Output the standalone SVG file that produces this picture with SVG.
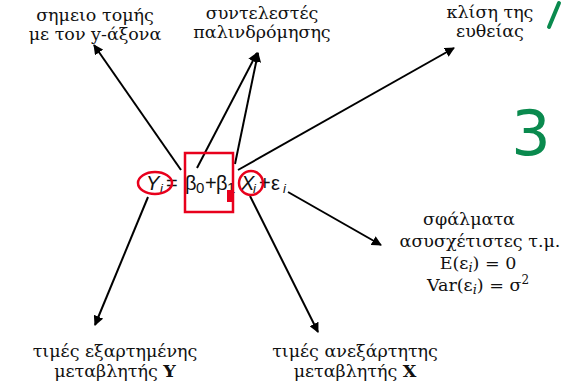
<svg xmlns="http://www.w3.org/2000/svg" width="567" height="383" viewBox="0 0 567 383">
  <defs>
    <marker id="ah" viewBox="0 0 10 10" refX="9" refY="5" markerWidth="5" markerHeight="5" orient="auto" markerUnits="strokeWidth">
      <path d="M0,0 L10,5 L0,10 z" fill="#000"/>
    </marker>
    <style>
      .lbl { font-family: "DejaVu Serif", "Liberation Serif", serif; font-size: 17.5px; fill: #111; text-anchor: middle; }
      .eq { font-family: "Liberation Sans", Arial, sans-serif; font-size: 20px; fill: #111; }
      .sub { font-size: 13px; font-style: italic; }
      .conn line { stroke: #000; stroke-width: 2; marker-end: url(#ah); }
      .mark { fill: none; stroke: #e8001c; stroke-width: 2.5; }
      .ink { fill: none; stroke: #0a8a4e; stroke-width: 4; stroke-linecap: round; stroke-linejoin: round; }
    </style>
  </defs>
  <rect width="567" height="383" fill="#fff"/>

  <!-- connectors -->
  <g id="connectors" class="conn">
    <line x1="181" y1="170" x2="94" y2="45"/>
    <line x1="197" y1="168" x2="257" y2="53"/>
    <line x1="235" y1="164" x2="258" y2="53"/>
    <line x1="238" y1="170" x2="454" y2="48"/>
    <line x1="148" y1="197" x2="95" y2="325"/>
    <line x1="250" y1="196" x2="318" y2="332"/>
    <line x1="288" y1="192" x2="381" y2="245"/>
  </g>

  <!-- regression equation -->
  <g id="equation">
    <text class="eq" y="190"><tspan x="146" font-style="italic">Y</tspan><tspan class="sub" x="160" dy="3">i</tspan><tspan x="166" dy="-3">=</tspan><tspan x="185">β</tspan><tspan x="196" font-size="15" dy="3">0</tspan><tspan x="205" dy="-3">+</tspan><tspan x="216">β</tspan><tspan x="227" font-size="15" dy="3">1</tspan><tspan x="241" dy="-3" font-style="italic">X</tspan><tspan class="sub" x="253" dy="3">i</tspan><tspan x="259" dy="-3">+</tspan><tspan x="271">ε</tspan><tspan class="sub" x="283" dy="3">i</tspan></text>
    <ellipse class="mark" cx="155" cy="183" rx="17" ry="11"/>
    <rect class="mark" x="185" y="153" width="48" height="59"/>
    <rect x="227" y="190" width="6" height="12" fill="#e8001c"/>
    <circle class="mark" cx="251" cy="183" r="12"/>
  </g>

  <g id="intercept">
    <text class="lbl" x="95" y="21">σημειο τομής</text>
    <text class="lbl" x="95" y="40">με τον y-άξονα</text>
  </g>
  <g id="coefficients">
    <text class="lbl" x="262" y="19">συντελεστές</text>
    <text class="lbl" x="262" y="38">παλινδρόμησης</text>
  </g>
  <g id="slope">
    <text class="lbl" x="490" y="18">κλίση της</text>
    <text class="lbl" x="490" y="37">ευθείας</text>
  </g>
  <g id="errors">
    <text class="lbl" x="469" y="225">σφάλματα</text>
    <text class="lbl" x="480" y="247">ασυσχέτιστες τ.μ.</text>
    <text class="lbl" x="478" y="269">E(ε<tspan class="sub" dy="3">i</tspan><tspan dy="-3">) = 0</tspan></text>
    <text class="lbl" x="478" y="291">Var(ε<tspan class="sub" dy="3">i</tspan><tspan dy="-3">) = σ</tspan><tspan font-size="12" dy="-7">2</tspan></text>
  </g>
  <g id="dependent">
    <text class="lbl" x="115" y="357">τιμές εξαρτημένης</text>
    <text class="lbl" x="115" y="377">μεταβλητής  <tspan font-weight="bold">Y</tspan></text>
  </g>
  <g id="independent">
    <text class="lbl" x="355" y="357">τιμές ανεξάρτητης</text>
    <text class="lbl" x="355" y="377">μεταβλητής  <tspan font-weight="bold">X</tspan></text>
  </g>

  <!-- green handwritten marks -->
  <line class="ink" x1="549" y1="27" x2="559" y2="3"/>
  <text x="531" y="155" font-family="'DejaVu Sans', sans-serif" font-size="62" fill="#0a8a4e" text-anchor="middle">3</text>
</svg>
